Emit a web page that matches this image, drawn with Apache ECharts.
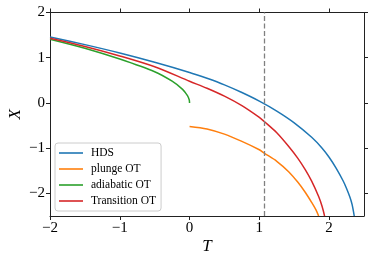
<!DOCTYPE html>
<html>
<head>
<meta charset="utf-8">
<script src="https://cdn.jsdelivr.net/npm/echarts@6/dist/echarts.min.js"></script>
<style>html,body{margin:0;padding:0;background:#fff;}#c{width:374px;height:264px;}</style>
</head>
<body>
<div id="c"></div>
<script>
const seriesNames = ['HDS', 'plunge OT', 'adiabatic OT', 'Transition OT'];
const hdsT = [-2, -1.5, -1, -0.5, 0, 0.25, 0.5, 0.75, 1.0, 1.25, 1.5, 1.75, 1.9, 2.0, 2.1, 2.2, 2.25, 2.3, 2.33, 2.36];
const hdsX = [1.46, 1.29, 1.105, 0.90, 0.675, 0.545, 0.40, 0.23, 0.04, -0.18, -0.44, -0.76, -1.00, -1.20, -1.44, -1.72, -1.89, -2.09, -2.25, -2.5];
const plungeT = [0, 0.25, 0.5, 0.75, 1.0, 1.07, 1.25, 1.42, 1.55, 1.66, 1.75, 1.81, 1.85];
const plungeX = [-0.52, -0.575, -0.69, -0.85, -1.035, -1.11, -1.29, -1.52, -1.75, -1.98, -2.2, -2.36, -2.5];
const adiabaticT = [-2, -1.5, -1, -0.5, -0.25, -0.1, -0.03, -0.005, 0];
const adiabaticX = [1.41, 1.21, 0.97, 0.69, 0.48, 0.30, 0.16, 0.07, 0];
const transitionT = [-2, -1.5, -1, -0.5, 0, 0.25, 0.5, 0.75, 1.0, 1.07, 1.25, 1.43, 1.55, 1.66, 1.75, 1.85, 1.9, 1.935];
const transitionX = [1.43, 1.25, 1.04, 0.80, 0.48, 0.325, 0.15, -0.06, -0.32, -0.41, -0.66, -0.98, -1.22, -1.48, -1.73, -2.07, -2.29, -2.5];
const criticalT = 1.07;
const xTicks = [-2, -1, 0, 1, 2];
const yTicks = [-2, -1, 0, 1, 2];
const xRange = [-2, 2.5];
const yRange = [-2.5, 2];

const colors = ['#1f77b4', '#ff7f0e', '#2ca02c', '#d62728'];
const pairs = (ts, xs) => ts.map((t, i) => [t, xs[i]]);
const allData = [pairs(hdsT, hdsX), pairs(plungeT, plungeX), pairs(adiabaticT, adiabaticX), pairs(transitionT, transitionX)];
const fmt = v => String(v).replace('-', '\u2212');
const serif = '"Liberation Serif", "DejaVu Serif", serif';
const axisColor = '#222';

function makeAxis(pos, range, isX, primary) {
  return {
    type: 'value', position: pos, min: range[0], max: range[1], interval: 0.5,
    axisLine: { show: true, onZero: false, lineStyle: { color: axisColor, width: 1 } },
    axisTick: { show: true, inside: false, length: 4, lineStyle: { color: axisColor, width: 1 },
      customValues: isX ? xTicks : yTicks },
    axisLabel: { show: primary, color: '#000', fontFamily: serif, fontSize: 15, margin: 5,
      customValues: isX ? xTicks : yTicks, formatter: fmt },
    splitLine: { show: false },
    name: primary ? (isX ? 'T' : 'X') : '',
    nameLocation: 'middle',
    nameGap: isX ? 22 : 26,
    nameMoveOverlap: false,
    nameTextStyle: { fontFamily: serif, fontStyle: 'italic', fontSize: 17, color: '#000' }
  };
}

const chart = echarts.init(document.getElementById('c'), null, { renderer: 'canvas' });
const series = allData.map((d, i) => ({
  name: seriesNames[i], type: 'line', data: d, smooth: 0.3, showSymbol: false, symbol: 'none',
  xAxisIndex: 0, yAxisIndex: 0,
  lineStyle: { color: colors[i], width: 1.5 }, itemStyle: { color: colors[i] },
  z: 3
}));
series[0].markLine = {
  silent: true, symbol: 'none', label: { show: false },
  lineStyle: { color: '#808080', type: [5, 2.5], width: 1.3 },
  data: [{ xAxis: criticalT }]
};
chart.setOption({
  animation: false,
  backgroundColor: '#fff',
  color: colors,
  grid: { left: 50, right: 10, top: 12.5, bottom: 48, containLabel: false, outerBoundsMode: 'none' },
  xAxis: [makeAxis('bottom', xRange, true, true), makeAxis('top', xRange, true, false)],
  yAxis: [makeAxis('left', yRange, false, true), makeAxis('right', yRange, false, false)],
  legend: {
    orient: 'vertical', left: 55, top: 143,
    data: seriesNames.map((n, i) => ({ name: n, icon: 'rect', itemStyle: { color: colors[i], opacity: 0.8 } })),
    itemWidth: 24, itemHeight: 2, itemGap: 4,
    padding: [4, 5, 4, 4],
    backgroundColor: 'rgba(255,255,255,0.8)',
    borderColor: '#ccc', borderWidth: 1, borderRadius: 3,
    textStyle: { fontFamily: serif, fontSize: 11.5, color: '#000', lineHeight: 12, padding: [0, 0, 0, 3] }
  },
  series: series
});
</script>
</body>
</html>
